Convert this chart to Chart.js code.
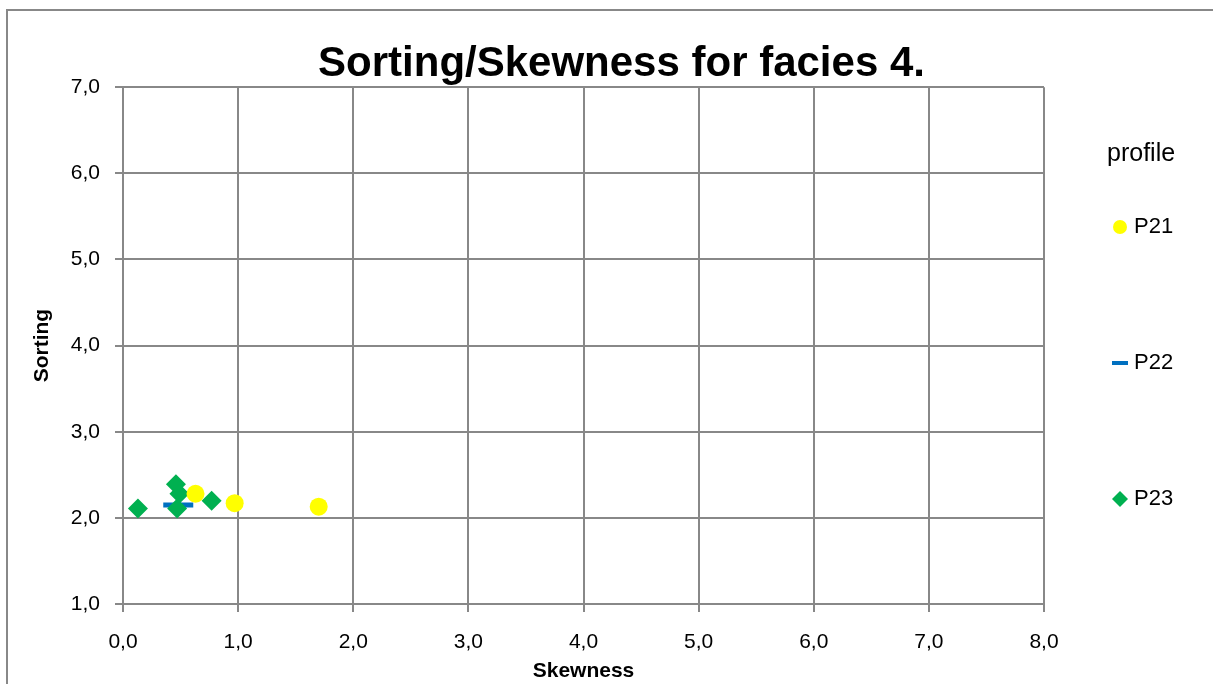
<!DOCTYPE html>
<html>
<head>
<meta charset="utf-8">
<script src="https://cdn.jsdelivr.net/npm/chart.js@4.4.1/dist/chart.umd.min.js"></script>
<style>
    body { margin: 0; background: #fff; }
    #wrap { position: absolute; left: 0; top: 0; width: 1213px; height: 684px; }
</style>
</head>
<body>
<div id="wrap"><canvas id="faciesGraph" width="1213" height="684"></canvas></div>
<script>
const p21Skewness = [0.63, 0.97, 1.70];
const p21Sorting = [2.28, 2.17, 2.13];
const p22Skewness = [0.48];
const p22Sorting = [2.15];
const p23Skewness = [0.13, 0.46, 0.49, 0.47, 0.77];
const p23Sorting = [2.11, 2.39, 2.28, 2.11, 2.20];
const seriesNames = ['P21', 'P22', 'P23'];
const xTicks = [0, 1, 2, 3, 4, 5, 6, 7, 8];
const yTicks = [1, 2, 3, 4, 5, 6, 7];

function toPoints(xs, ys) {
    return xs.map((x, i) => ({ x: x, y: ys[i] }));
}

function formatComma(v) {
    return v.toFixed(1).replace('.', ',');
}

const fontName = "'Liberation Sans', Arial, sans-serif";

// legend on the right + outer border, drawn like the spreadsheet original
const sideLegend = {
    id: 'sideLegend',
    beforeDraw(chart) {
        const ctx = chart.ctx;
        ctx.save();
        ctx.strokeStyle = '#888888';
        ctx.lineWidth = 2;
        ctx.strokeRect(7, 10, 1215, 700);
        ctx.restore();
    },
    afterDraw(chart) {
        const ctx = chart.ctx;
        ctx.save();
        ctx.fillStyle = '#000';
        ctx.font = '25px ' + fontName;
        ctx.textBaseline = 'middle';
        ctx.fillText('profile', 1107, 154);
        const rowY = [227, 363, 499];
        chart.data.datasets.forEach((ds, i) => {
            const y = rowY[i];
            const cx = 1120;
            ctx.fillStyle = ds.backgroundColor;
            if (ds.pointStyle === 'circle') {
                ctx.beginPath();
                ctx.arc(cx, y, 7, 0, Math.PI * 2);
                ctx.fill();
            } else if (ds.pointStyle === 'line') {
                ctx.fillRect(cx - 8, y - 2, 16, 4);
            } else {
                ctx.beginPath();
                ctx.moveTo(cx, y - 8);
                ctx.lineTo(cx + 8, y);
                ctx.lineTo(cx, y + 8);
                ctx.lineTo(cx - 8, y);
                ctx.closePath();
                ctx.fill();
            }
            ctx.fillStyle = '#000';
            ctx.font = '22px ' + fontName;
            ctx.fillText(ds.label, 1134, y);
        });
        ctx.restore();
    }
};

function drawFaciesGraph() {
    const faciesGraph = document.getElementById('faciesGraph');

    new Chart(faciesGraph, {
        type: 'scatter',
        plugins: [sideLegend],
        data: {
            datasets: [
                {
                    label: seriesNames[0],
                    data: toPoints(p21Skewness, p21Sorting),
                    backgroundColor: '#FFFF00',
                    borderColor: '#FFFF00',
                    pointStyle: 'circle',
                    pointRadius: 9,
                    pointHoverRadius: 9,
                    borderWidth: 0,
                    order: 0
                },
                {
                    label: seriesNames[1],
                    data: toPoints(p22Skewness, p22Sorting),
                    backgroundColor: '#0070C0',
                    borderColor: '#0070C0',
                    pointStyle: 'line',
                    pointRadius: 15,
                    pointHoverRadius: 15,
                    borderWidth: 5,
                    order: 2
                },
                {
                    label: seriesNames[2],
                    data: toPoints(p23Skewness, p23Sorting),
                    backgroundColor: '#00B050',
                    borderColor: '#00B050',
                    pointStyle: 'rectRot',
                    pointRadius: 10,
                    pointHoverRadius: 10,
                    borderWidth: 0,
                    order: 1
                }
            ]
        },
        options: {
            responsive: false,
            animation: false,
            layout: {
                padding: { top: 20, right: 0, left: 30, bottom: 0 }
            },
            plugins: {
                legend: { display: false },
                tooltip: { enabled: false },
                title: {
                    display: true,
                    text: 'Sorting/Skewness for facies 4.',
                    color: '#000',
                    font: { family: fontName, size: 42, weight: 'bold', lineHeight: 1.1 },
                    padding: { top: 21, bottom: 0 }
                }
            },
            scales: {
                x: {
                    type: 'linear',
                    min: 0,
                    max: 8,
                    afterBuildTicks: (scale) => { scale.ticks = xTicks.map(v => ({ value: v })); },
                    afterFit: (scale) => { scale.height = 80; },
                    ticks: {
                        color: '#000',
                        font: { family: fontName, size: 21 },
                        padding: 18,
                        callback: (v) => formatComma(v)
                    },
                    grid: { color: '#888888', lineWidth: 2, tickLength: 8 },
                    border: { color: '#888888', width: 2 },
                    title: {
                        display: true,
                        text: 'Skewness',
                        color: '#000',
                        font: { family: fontName, size: 21, weight: 'bold' },
                        padding: { top: 4, bottom: 0 }
                    }
                },
                y: {
                    type: 'linear',
                    min: 1,
                    max: 7,
                    afterBuildTicks: (scale) => { scale.ticks = yTicks.map(v => ({ value: v })); },
                    afterFit: (scale) => { scale.width = 93; },
                    ticks: {
                        color: '#000',
                        font: { family: fontName, size: 21 },
                        padding: 15,
                        callback: (v) => formatComma(v)
                    },
                    grid: { color: '#888888', lineWidth: 2, tickLength: 8 },
                    border: { color: '#888888', width: 2 },
                    title: {
                        display: true,
                        text: 'Sorting',
                        color: '#000',
                        font: { family: fontName, size: 21, weight: 'bold' },
                        padding: { top: 0, bottom: 4 }
                    }
                },
                // empty right-hand box that keeps room for the legend
                legendSpace: {
                    type: 'linear',
                    position: 'right',
                    afterFit: (scale) => { scale.width = 169; },
                    ticks: { display: false },
                    grid: { display: false },
                    border: { display: false }
                }
            }
        }
    });
}

drawFaciesGraph();
</script>
</body>
</html>
